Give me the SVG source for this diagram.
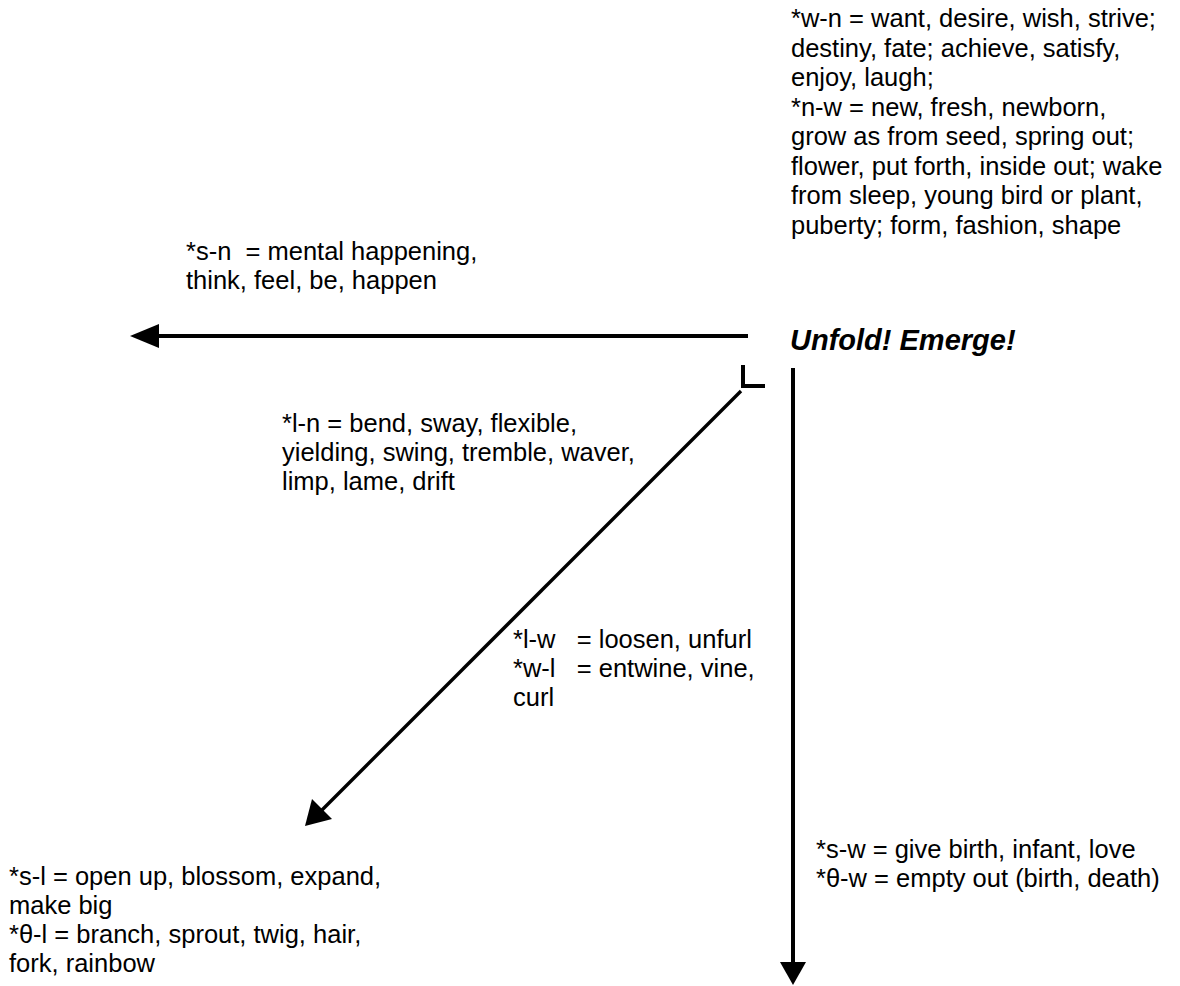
<svg xmlns="http://www.w3.org/2000/svg" width="1180" height="986" viewBox="0 0 1180 986">
  <style>
    .t { font-family: "Liberation Sans", Arial, sans-serif; font-size: 25.5px; fill: #000; }
    .title { font-family: "Liberation Sans", Arial, sans-serif; font-size: 29px; font-weight: bold; font-style: italic; fill: #000; }
    .ln { stroke: #000; stroke-width: 4; fill: none; }
    .head { fill: #000; stroke: none; }
  </style>
  <rect width="1180" height="986" fill="#fff"/>

  <!-- connectors -->
  <g id="connectors">
    <!-- leftward arrow -->
    <line class="ln" x1="748" y1="336" x2="156" y2="336"/>
    <polygon class="head" points="130,336 159,324 159,348"/>
    <!-- corner mark -->
    <polyline class="ln" points="743,365 743,386 765,386"/>
    <!-- downward arrow -->
    <line class="ln" x1="793" y1="368" x2="793" y2="964"/>
    <polygon class="head" points="793,985 780,962 806,962"/>
    <!-- diagonal arrow -->
    <line class="ln" style="stroke-width:3.4" x1="741" y1="391" x2="322" y2="810"/>
    <polygon class="head" points="305,826 312,799 332,819"/>
  </g>

  <g id="node-top">
    <text class="t">
      <tspan x="791" y="27">*w-n = want, desire, wish, strive;</tspan>
      <tspan x="791" y="56.5">destiny, fate; achieve, satisfy,</tspan>
      <tspan x="791" y="86">enjoy, laugh;</tspan>
      <tspan x="791" y="115.5">*n-w = new, fresh, newborn,</tspan>
      <tspan x="791" y="145">grow as from seed, spring out;</tspan>
      <tspan x="791" y="174.5">flower, put forth, inside out; wake</tspan>
      <tspan x="791" y="204">from sleep, young bird or plant,</tspan>
      <tspan x="791" y="233.5">puberty; form, fashion, shape</tspan>
    </text>
  </g>

  <g id="node-center">
    <text class="title" x="790" y="350">Unfold! Emerge!</text>
  </g>

  <g id="node-left">
    <text class="t" xml:space="preserve">
      <tspan x="186" y="260">*s-n  = mental happening,</tspan>
      <tspan x="186" y="289">think, feel, be, happen</tspan>
    </text>
  </g>

  <g id="node-diag-upper">
    <text class="t">
      <tspan x="282" y="432">*l-n = bend, sway, flexible,</tspan>
      <tspan x="282" y="461">yielding, swing, tremble, waver,</tspan>
      <tspan x="282" y="490">limp, lame, drift</tspan>
    </text>
  </g>

  <g id="node-diag-mid">
    <text class="t" xml:space="preserve">
      <tspan x="513" y="648">*l-w   = loosen, unfurl</tspan>
      <tspan x="513" y="677">*w-l   = entwine, vine,</tspan>
      <tspan x="513" y="706">curl</tspan>
    </text>
  </g>

  <g id="node-down">
    <text class="t">
      <tspan x="816" y="858">*s-w = give birth, infant, love</tspan>
      <tspan x="816" y="887">*θ-w = empty out (birth, death)</tspan>
    </text>
  </g>

  <g id="node-bottom-left">
    <text class="t">
      <tspan x="9" y="885">*s-l = open up, blossom, expand,</tspan>
      <tspan x="9" y="914">make big</tspan>
      <tspan x="9" y="943">*θ-l = branch, sprout, twig, hair,</tspan>
      <tspan x="9" y="972">fork, rainbow</tspan>
    </text>
  </g>
</svg>
